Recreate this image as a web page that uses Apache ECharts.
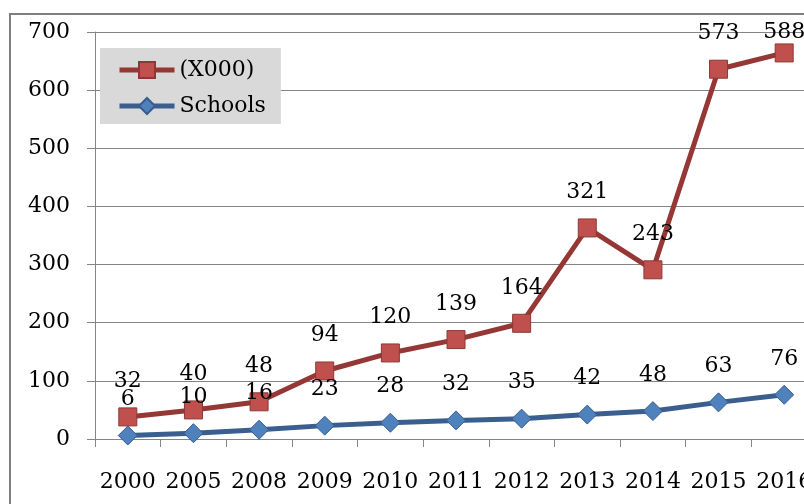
<!DOCTYPE html>
<html><head><meta charset="utf-8">
<script src="https://cdn.jsdelivr.net/npm/echarts@6/dist/echarts.min.js"></script>
<style>html,body{margin:0;padding:0;background:#fff;overflow:hidden}#c{width:840px;height:504px}</style>
</head><body><div id="c"></div>
<script>
const categories = ['2000','2005','2008','2009','2010','2011','2012','2013','2014','2015','2016'];
const schools = [6,10,16,23,28,32,35,42,48,63,76];
const x000 = [32,40,48,94,120,139,164,321,243,573,588];
const yTicks = {min:0, max:700, interval:100};

const FONT = 'DejaVu Serif';
// last red label is kept inside the plot area, as in the original
const x000Data = x000.map((v, i) => i === x000.length - 1 ? {value: v, label: {distance: 0}} : v);

const chart = echarts.init(document.getElementById('c'), null, {renderer:'canvas'});
chart.setOption({
  animation:false,
  backgroundColor:'#fff',
  graphic:[{type:'rect', shape:{x:10, y:14, width:850, height:520}, style:{fill:'none', stroke:'#7f7f7f', lineWidth:2}, z:-1}],
  grid:{left:95, top:32, bottom:65, width:722},
  legend:{
    data:['(X000)','Schools'], orient:'vertical', left:100, top:48,
    backgroundColor:'#d9d9d9', padding:[11,15,7,17], itemGap:14,
    itemWidth:55, itemHeight:20,
    lineStyle:{width:5},
    textStyle:{fontFamily:FONT, fontSize:22, color:'#000'}
  },
  xAxis:{type:'category', data:categories, boundaryGap:true,
    axisLine:{lineStyle:{color:'#858585', width:1}},
    axisTick:{show:true, length:8, interval:0, lineStyle:{color:'#858585'}},
    axisLabel:{interval:0, fontFamily:FONT, fontSize:22, color:'#000', margin:32}
  },
  yAxis:{type:'value', min:yTicks.min, max:yTicks.max, interval:yTicks.interval,
    axisLine:{show:true, lineStyle:{color:'#858585'}},
    axisTick:{show:true, length:8, lineStyle:{color:'#858585'}},
    splitLine:{lineStyle:{color:'#858585', width:1}},
    axisLabel:{fontFamily:FONT, fontSize:22, color:'#000', margin:25}
  },
  series:[
    {name:'Schools', type:'line', stack:'a', data:schools,
     symbol:'diamond', symbolSize:19,
     lineStyle:{color:'#3a5f8f', width:5},
     itemStyle:{color:'#4f81bd', borderColor:'#385d8a', borderWidth:1},
     label:{show:true, position:'top', distance:15, fontFamily:FONT, fontSize:22, color:'#000'}
    },
    {name:'(X000)', type:'line', stack:'a', data:x000Data,
     symbol:'rect', symbolSize:18,
     lineStyle:{color:'#953735', width:5},
     itemStyle:{color:'#c0504d', borderColor:'#8c3836', borderWidth:1},
     label:{show:true, position:'top', distance:15, fontFamily:FONT, fontSize:22, color:'#000'}
    }
  ]
});
</script></body></html>
